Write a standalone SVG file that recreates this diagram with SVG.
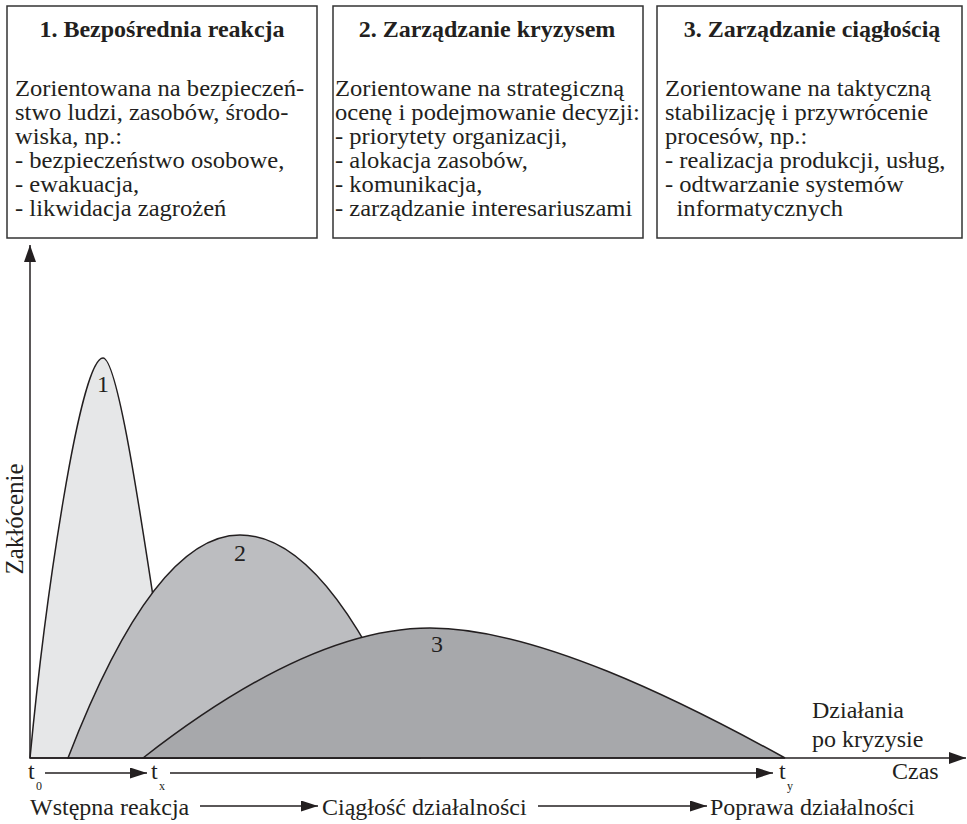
<svg xmlns="http://www.w3.org/2000/svg" width="967" height="824" viewBox="0 0 967 824">
<style>
.box{fill:#fff;stroke:#333;stroke-width:1.5}
.t{font-family:"Liberation Serif","Times New Roman",serif;fill:#231f20}
.title{font-size:24px;font-weight:bold;text-anchor:middle}
.body{font-size:23.4px}
.lbl{font-size:24px}
.sub{font-size:12px}
.curve{stroke:#231f20;stroke-width:1.5}
.ln{stroke:#231f20;stroke-width:1.5;fill:none}
</style>
<defs>
<marker id="ah" viewBox="0 0 17 12" refX="17" refY="6" markerWidth="17" markerHeight="12" markerUnits="userSpaceOnUse" orient="auto">
<path d="M0,0 L17,6 L0,12 Z" fill="#231f20"/>
</marker>
<marker id="ahs" viewBox="0 0 17 11" refX="17" refY="5.5" markerWidth="17" markerHeight="11" markerUnits="userSpaceOnUse" orient="auto">
<path d="M0,0 L17,5.5 L0,11 Z" fill="#231f20"/>
</marker>
</defs>

<g id="box1">
<rect class="box" x="7" y="6" width="310" height="232"/>
<text class="t title" x="162" y="37">1. Bezpośrednia reakcja</text>
<g transform="translate(15,0) scale(1.05,1)">
<text class="t body" x="0" y="96">Zorientowana na bezpieczeń-</text>
<text class="t body" x="0" y="120">stwo ludzi, zasobów, środo-</text>
<text class="t body" x="0" y="144">wiska, np.:</text>
<text class="t body" x="0" y="168">- bezpieczeństwo osobowe,</text>
<text class="t body" x="0" y="192">- ewakuacja,</text>
<text class="t body" x="0" y="216">- likwidacja zagrożeń</text>
</g>
</g>

<g id="box2">
<rect class="box" x="333" y="6" width="310" height="232"/>
<text class="t title" x="487" y="37">2. Zarządzanie kryzysem</text>
<g transform="translate(335,0) scale(1.05,1)">
<text class="t body" x="0" y="96">Zorientowane na strategiczną</text>
<text class="t body" x="0" y="120">ocenę i podejmowanie decyzji:</text>
<text class="t body" x="0" y="144">- priorytety organizacji,</text>
<text class="t body" x="0" y="168">- alokacja zasobów,</text>
<text class="t body" x="0" y="192">- komunikacja,</text>
<text class="t body" x="0" y="216">- zarządzanie interesariuszami</text>
</g>
</g>

<g id="box3">
<rect class="box" x="657" y="6" width="305" height="232"/>
<text class="t title" x="812" y="37">3. Zarządzanie ciągłością</text>
<g transform="translate(665,0) scale(1.05,1)">
<text class="t body" x="0" y="96">Zorientowane na taktyczną</text>
<text class="t body" x="0" y="120">stabilizację i przywrócenie</text>
<text class="t body" x="0" y="144">procesów, np.:</text>
<text class="t body" x="0" y="168">- realizacja produkcji, usług,</text>
<text class="t body" x="0" y="192">- odtwarzanie systemów</text>
<text class="t body" x="11" y="216">informatycznych</text>
</g>
</g>

<g id="curve1">
<path class="curve" fill="#e6e7e8" d="M30,758 C45,600 80,358 103,358 C122,358 155,620 178,758 Z"/>
<text class="t lbl" x="103" y="392" text-anchor="middle">1</text>
</g>
<g id="curve2">
<path class="curve" fill="#bcbdc0" d="M68,758 Q154,535 240,535 Q330,535 420,758 Z"/>
<text class="t lbl" x="240" y="561" text-anchor="middle">2</text>
</g>
<g id="curve3">
<path class="curve" fill="#a7a8ab" d="M143,758 C230,690 335,628 430,628 C535,628 680,700 785,758 Z"/>
<text class="t lbl" x="437" y="652" text-anchor="middle">3</text>
</g>

<g id="connectors">
<line class="ln" x1="30" y1="758" x2="30" y2="245" marker-end="url(#ah)"/>
<line class="ln" x1="30" y1="758" x2="966" y2="758" marker-end="url(#ah)"/>
<line class="ln" x1="45" y1="773" x2="147" y2="773" marker-end="url(#ahs)"/>
<line class="ln" x1="170" y1="773" x2="773" y2="773" marker-end="url(#ahs)"/>
<line class="ln" x1="200" y1="806" x2="318" y2="806" marker-end="url(#ahs)"/>
<line class="ln" x1="538" y1="806" x2="707" y2="806" marker-end="url(#ahs)"/>
</g>

<g id="labels">
<text class="t" font-size="25" transform="translate(23,519) rotate(-90)" text-anchor="middle">Zakłócenie</text>
<text class="t lbl" x="812" y="718">Działania</text>
<text class="t lbl" x="812" y="747">po kryzysie</text>
<text class="t lbl" x="892" y="779">Czas</text>
<text class="t lbl" x="28" y="779">t</text>
<text class="t sub" x="36" y="790">0</text>
<text class="t lbl" x="151" y="779">t</text>
<text class="t sub" x="159" y="790">x</text>
<text class="t lbl" x="779" y="779">t</text>
<text class="t sub" x="787" y="790">y</text>
<text class="t lbl" x="30" y="815">Wstępna reakcja</text>
<text class="t lbl" x="322" y="815">Ciągłość działalności</text>
<text class="t lbl" x="710" y="815">Poprawa działalności</text>
</g>
</svg>
